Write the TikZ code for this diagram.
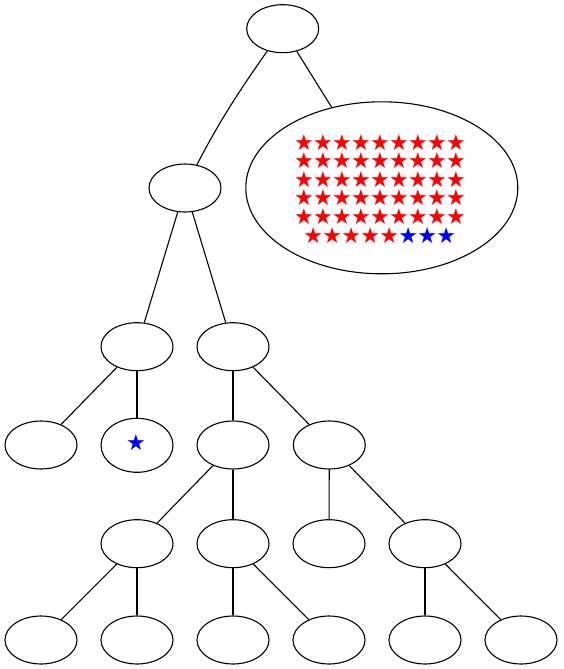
\documentclass[tikz,border=0pt]{standalone}
\usepackage{fontspec}
\usetikzlibrary{shapes.geometric}
\newfontfamily\starfont{DejaVu Sans}
\begin{document}
\begin{tikzpicture}[x=1pt,y=-1pt,
  nd/.style={draw,line width=1.1pt,ellipse,minimum width=72pt,minimum height=48pt,inner sep=0pt},
  edge/.style={line width=1.1pt},
  st/.style={inner sep=0pt,font=\starfont\fontsize{22}{22}\selectfont},
  redstar/.style={st,text=red},
  bluestar/.style={st,text=blue}]
\useasboundingbox (0,0) rectangle (563,669);
% nodes
\node[nd] (root) at (282.7,28.7) {};
\node[nd] (a) at (185,188) {};
\node[draw,line width=1.1pt,ellipse,minimum width=272pt,minimum height=172pt,inner sep=0pt] (big) at (381.8,187.8) {};
\node[nd] (b) at (137,346.7) {};
\node[nd] (c) at (233,346.7) {};
\node[nd] (b1) at (41,445) {};
\node[nd,minimum height=54pt] (b2) at (137,445.3) {};
\node[nd] (d) at (233,445) {};
\node[nd] (e) at (329.3,445) {};
\node[nd] (f) at (137,543.7) {};
\node[nd] (g) at (233,543.7) {};
\node[nd] (h) at (329,543.7) {};
\node[nd] (i) at (425,543.7) {};
\node[nd] (f1) at (41,640) {};
\node[nd] (f2) at (137,640) {};
\node[nd] (g1) at (233,640) {};
\node[nd] (g2) at (329,640) {};
\node[nd] (i1) at (425,640) {};
\node[nd] (i2) at (521,640) {};
% stars in big node
\foreach \r/\y in {1/142.3,2/161,3/179.3,4/197.8,5/216.5}{
  \foreach \c in {0,...,8}{
    \node[redstar] (s-\r-\c) at (304+19*\c,\y) {★};
  }
}
\foreach \c in {0,...,4}{
  \node[redstar] (s-6-\c) at (313.3+19*\c,235.3) {★};
}
\foreach \c in {5,6,7}{
  \node[bluestar] (s-6-\c) at (313.3+19*\c,235.3) {★};
}
\node[bluestar] (bs) at (136,443) {★};
% edges
\draw[edge] (root) .. controls (250,76) and (224,112) .. (a);
\draw[edge] (root) -- (big);
\draw[edge] (a) -- (b);
\draw[edge] (a) -- (c);
\draw[edge] (b) -- (b1);
\draw[edge] (b) -- (b2);
\draw[edge] (c) -- (d);
\draw[edge] (c) -- (e);
\draw[edge] (d) -- (f);
\draw[edge] (d) -- (g);
\draw[edge] (e) -- (h);
\draw[edge] (e) -- (i);
\draw[edge] (f) -- (f1);
\draw[edge] (f) -- (f2);
\draw[edge] (g) -- (g1);
\draw[edge] (g) -- (g2);
\draw[edge] (i) -- (i1);
\draw[edge] (i) -- (i2);
\end{tikzpicture}
\end{document}
